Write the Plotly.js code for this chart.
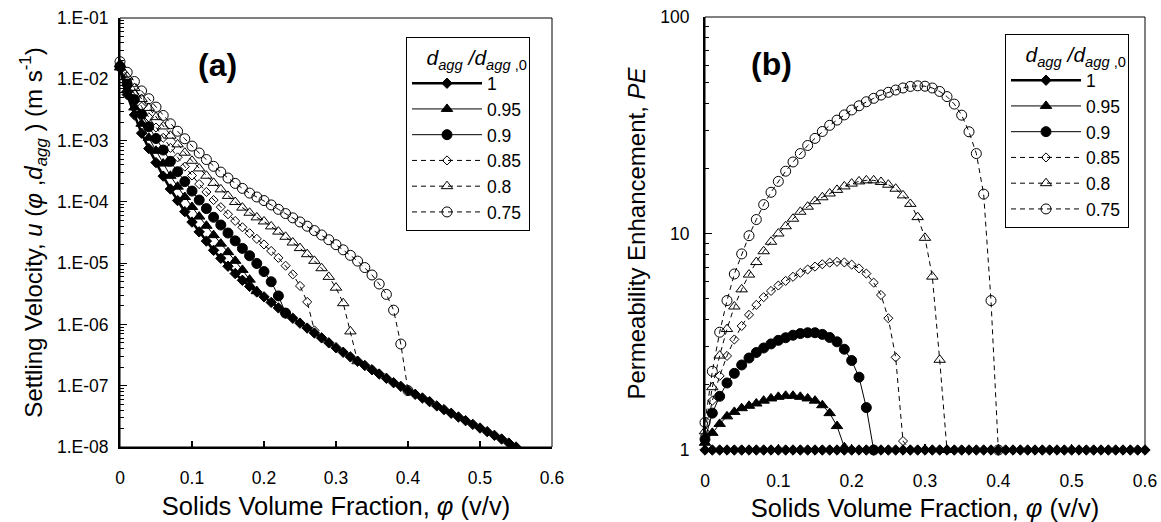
<!DOCTYPE html>
<html>
<head>
<meta charset="utf-8">
<script src="https://cdn.plot.ly/plotly-3.0.1.min.js"></script>
<style>html,body{margin:0;padding:0;background:#fff;}#chart{width:1161px;height:522px;}</style>
</head>
<body>
<div id="chart"></div>
<script>
// ---------- data ----------
const phi = [0,0.01,0.02,0.03,0.04,0.05,0.06,0.07,0.08,0.09,
  0.10,0.11,0.12,0.13,0.14,0.15,0.16,0.17,0.18,0.19,
  0.20,0.21,0.22,0.23,0.24,0.25,0.26,0.27,0.28,0.29,
  0.30,0.31,0.32,0.33,0.34,0.35,0.36,0.37,0.38,0.39,
  0.40,0.41,0.42,0.43,0.44,0.45,0.46,0.47,0.48,0.49,
  0.50,0.51,0.52,0.53,0.54,0.55,0.56,0.57,0.58,0.59,0.60];

const seriesNames = ['1','0.95','0.9','0.85','0.8','0.75'];

// (a) settling velocity u (m/s)
const uA_1 = [1.45e-2,5.62e-3,2.63e-3,1.32e-3,7.41e-4,4.37e-4,2.63e-4,1.62e-4,1.05e-4,6.92e-5,
  4.68e-5,3.24e-5,2.29e-5,1.62e-5,1.20e-5,8.91e-6,6.76e-6,5.25e-6,4.17e-6,3.39e-6,
  2.82e-6,2.29e-6,1.86e-6,1.53e-6,1.26e-6,1.05e-6,8.71e-7,7.24e-7,6.03e-7,5.01e-7,
  4.17e-7,3.51e-7,2.95e-7,2.51e-7,2.14e-7,1.82e-7,1.55e-7,1.32e-7,1.12e-7,9.77e-8,
  8.32e-8,7.24e-8,6.31e-8,5.50e-8,4.68e-8,4.07e-8,3.55e-8,3.09e-8,2.69e-8,2.34e-8,
  2.04e-8,1.78e-8,1.55e-8,1.35e-8,1.16e-8,1.00e-8,8.71e-9,7.59e-9,6.61e-9,5.75e-9,5.01e-9];
const uA_095 = [1.56e-2,6.75e-3,3.47e-3,1.88e-3,1.11e-3,6.81e-4,4.21e-4,2.66e-4,1.77e-4,1.20e-4,
  8.24e-5,5.75e-5,4.07e-5,2.86e-5,2.08e-5,1.51e-5,1.09e-5,7.76e-6,5.38e-6,3.49e-6];
const uA_09 = [1.62e-2,8.30e-3,4.67e-3,2.69e-3,1.68e-3,1.08e-3,7.00e-4,4.58e-4,3.10e-4,2.14e-4,
  1.50e-4,1.07e-4,7.76e-5,5.60e-5,4.19e-5,3.10e-5,2.31e-5,1.74e-5,1.32e-5,9.89e-6,
  7.29e-6,4.97e-6,2.92e-6,1.53e-6];
const uA_085 = [1.69e-2,9.51e-3,5.78e-3,3.58e-3,2.40e-3,1.63e-3,1.11e-3,7.59e-4,5.32e-4,3.76e-4,
  2.69e-4,1.95e-4,1.45e-4,1.07e-4,8.20e-5,6.27e-5,4.88e-5,3.85e-5,3.08e-5,2.49e-5,
  2.02e-5,1.58e-5,1.22e-5,9.08e-6,6.55e-6,4.25e-6,2.33e-6,8.00e-7,6.03e-7];
const uA_08 = [1.76e-2,1.10e-2,7.18e-3,4.78e-3,3.41e-3,2.41e-3,1.70e-3,1.20e-3,8.67e-4,6.34e-4,
  4.68e-4,3.51e-4,2.67e-4,2.04e-4,1.60e-4,1.25e-4,9.95e-5,8.05e-5,6.64e-5,5.58e-5,
  4.79e-5,3.98e-5,3.27e-5,2.69e-5,2.17e-5,1.76e-5,1.40e-5,1.09e-5,8.26e-6,5.97e-6,
  3.98e-6,2.22e-6,7.69e-7,2.51e-7];
const uA_075 = [1.94e-2,1.30e-2,9.20e-3,6.46e-3,4.82e-3,3.52e-3,2.57e-3,1.88e-3,1.42e-3,1.07e-3,
  8.13e-4,6.27e-4,4.90e-4,3.80e-4,3.06e-4,2.45e-4,2.00e-4,1.66e-4,1.39e-4,1.20e-4,
  1.05e-4,8.91e-5,7.55e-5,6.44e-5,5.48e-5,4.70e-5,4.01e-5,3.40e-5,2.88e-5,2.41e-5,
  2.00e-5,1.65e-5,1.34e-5,1.08e-5,8.47e-6,6.41e-6,4.57e-6,3.09e-6,1.71e-6,4.79e-7,8.32e-8];

// (b) permeability enhancement PE
const peB_1 = [1,1,1,1,1,1,1,1,1,1, 1,1,1,1,1,1,1,1,1,1, 1,1,1,1,1,1,1,1,1,1,
  1,1,1,1,1,1,1,1,1,1, 1,1,1,1,1,1,1,1,1,1, 1,1,1,1,1,1,1,1,1,1, 1];
const peB_095 = [1.08,1.20,1.32,1.43,1.50,1.56,1.60,1.64,1.69,1.73,
  1.76,1.78,1.78,1.76,1.73,1.69,1.61,1.48,1.29,1.03];
const peB_09 = [1.12,1.48,1.77,2.04,2.26,2.47,2.66,2.82,2.96,3.09,
  3.21,3.30,3.39,3.45,3.48,3.48,3.42,3.31,3.16,2.92,2.59,2.17,1.57,1.00];
const peB_085 = [1.17,1.69,2.20,2.72,3.24,3.74,4.21,4.68,5.08,5.43,
  5.75,6.04,6.31,6.58,6.82,7.03,7.21,7.33,7.40,7.35,
  7.18,6.90,6.53,5.93,5.20,4.06,2.68,1.10,1.00];
const peB_08 = [1.22,1.95,2.73,3.62,4.60,5.52,6.46,7.38,8.28,9.16,
  10.0,10.8,11.7,12.6,13.3,14.1,14.7,15.3,15.9,16.5,
  17.0,17.4,17.6,17.6,17.3,16.8,16.1,15.0,13.7,11.9,
  9.55,6.32,2.61,1.00];
const peB_075 = [1.34,2.31,3.50,4.90,6.50,8.05,9.77,11.6,13.6,15.5,
  17.4,19.4,21.4,23.4,25.5,27.5,29.6,31.6,33.4,35.3,
  37.2,38.9,40.6,42.1,43.6,44.9,46.0,47.0,47.8,48.1,
  47.9,47.0,45.3,42.9,39.6,35.2,29.5,23.4,15.2,4.90,1.00];

const yTickValsA = [1e-8,1e-7,1e-6,1e-5,1e-4,1e-3,1e-2,1e-1];
const yTickTextA = ['1.E-08','1.E-07','1.E-06','1.E-05','1.E-04','1.E-03','1.E-02','1.E-01'];
const yTickValsB = [1,10,100];
const yTickTextB = ['1','10','100'];

// minor tick positions (2..9 within each decade)
function minorTicks(lo, hi) {
  const out = [];
  for (let e = lo; e < hi; e++) for (let m = 2; m <= 9; m++) out.push(m * Math.pow(10, e));
  return out;
}

// ---------- styles ----------
const FONT = 'Liberation Sans, Arial, Helvetica, sans-serif';
const DASH = '5px,4px';
const styles = {
  '1':    {symbol:'diamond',          size:8,  width:2.6, dash:'solid'},
  '0.95': {symbol:'triangle-up',      size:10, width:1,   dash:'solid'},
  '0.9':  {symbol:'circle',           size:10, width:1,   dash:'solid'},
  '0.85': {symbol:'diamond-open',     size:7,  width:1,   dash:DASH},
  '0.8':  {symbol:'triangle-up-open', size:10, width:1,   dash:DASH},
  '0.75': {symbol:'circle-open',      size:10, width:1,   dash:DASH}
};

function mk(name, y, xa, ya, leg, clip) {
  const s = styles[name];
  return {
    type:'scatter', mode:'lines+markers', name:name,
    x: phi.slice(0, y.length), y:y,
    xaxis:xa, yaxis:ya, legend:leg,
    legendrank: seriesNames.indexOf(name) + 1,
    cliponaxis: clip,
    line:{color:'#000', width:s.width, dash:s.dash},
    marker:{symbol:s.symbol, size:s.size, color:'#000', line:{color:'#000', width:1}}
  };
}

const traces = [
  mk('0.95', uA_095, 'x', 'y', 'legend', false),
  mk('0.9',  uA_09,  'x', 'y', 'legend', false),
  mk('0.85', uA_085, 'x', 'y', 'legend', false),
  mk('0.8',  uA_08,  'x', 'y', 'legend', false),
  mk('0.75', uA_075, 'x', 'y', 'legend', false),
  mk('1',    uA_1,   'x', 'y', 'legend', true),
  mk('0.95', peB_095, 'x2', 'y2', 'legend2', false),
  mk('0.9',  peB_09,  'x2', 'y2', 'legend2', false),
  mk('0.85', peB_085, 'x2', 'y2', 'legend2', false),
  mk('0.8',  peB_08,  'x2', 'y2', 'legend2', false),
  mk('0.75', peB_075, 'x2', 'y2', 'legend2', false),
  mk('1',    peB_1,   'x2', 'y2', 'legend2', false)
];

const W = 1161, H = 522;
function xAxis(dom, anchor) {
  return {
    domain:dom, anchor:anchor,
    range:[0,0.6], tick0:0, dtick:0.1, ticks:'inside', ticklen:6, tickwidth:1.2, tickcolor:'#000',
    showline:true, linewidth:2, linecolor:'#000', mirror:false, zeroline:false, showgrid:false,
    ticklabelstandoff:14, tickfont:{size:17.5, family:FONT, color:'#000'},
    title:{text:'Solids Volume Fraction, <i>φ</i> (v/v)', font:{size:25.5, family:FONT, color:'#000'}, standoff:10}
  };
}
function yAxis(dom, anchor, rng, vals, text, minorVals, title, standoff, tls) {
  return {
    domain:dom, anchor:anchor, type:'log', range:rng,
    tickmode:'array', tickvals:vals, ticktext:text,
    ticks:'inside', ticklen:7, tickwidth:1.2, tickcolor:'#000',
    minor:{tickmode:'array', tickvals:minorVals, ticks:'inside', ticklen:4, tickwidth:1, tickcolor:'#000', showgrid:false},
    showline:true, linewidth:2, linecolor:'#000', mirror:false, zeroline:false, showgrid:false,
    ticklabelstandoff:tls, tickfont:{size:17.5, family:FONT, color:'#000'},
    title:{text:title, font:{size:24, family:FONT, color:'#000'}, standoff:standoff}
  };
}
const NB = '\u00a0\u00a0\u00a0';
function legendBox(x, y) {
  return {
    x:x, y:y, bgcolor:'#fff', bordercolor:'#000', borderwidth:1, xanchor:'left', yanchor:'top',
    font:{size:17.5, family:FONT, color:'#000'}, itemwidth:70, traceorder:'normal',
    title:{text: NB + '<i>d</i><sub><i>agg</i></sub> <i>/d</i><sub><i>agg</i> ,0</sub>',
           font:{size:21, family:FONT, color:'#000'}},
    itemclick:false, itemdoubleclick:false
  };
}

const layout = {
  width:W, height:H, margin:{l:0, r:0, t:0, b:0},
  paper_bgcolor:'#fff', plot_bgcolor:'#fff',
  font:{family:FONT, size:17.5, color:'#000'},
  showlegend:true,
  xaxis: xAxis([120/W, 552/W], 'y'),
  yaxis: yAxis([1-447/H, 1-18/H], 'x', [-8,-1], yTickValsA, yTickTextA, minorTicks(-8,-1),
    'Settling Velocity, <i>u</i> (<i>φ</i> ,<i>d</i><sub><i>agg</i></sub> ) (m s<sup>-1</sup>)', 8, 6),
  xaxis2: xAxis([705/W, 1145/W], 'y2'),
  yaxis2: yAxis([1-450/H, 1-17/H], 'x2', [0,2], yTickValsB, yTickTextB, minorTicks(0,2),
    'Permeability Enhancement, <i>PE</i>', 8, 10),
  legend: legendBox(406/W, 1-37/H),
  legend2: legendBox(1005/W, 1-34/H),
  shapes:[
    {type:'rect', layer:'below', xref:'x domain', yref:'y domain', x0:0, x1:1, y0:0, y1:1, line:{color:'#000', width:1}},
    {type:'rect', layer:'below', xref:'x2 domain', yref:'y2 domain', x0:0, x1:1, y0:0, y1:1, line:{color:'#000', width:1}}
  ],
  annotations:[
    {text:'<b>(a)</b>', xref:'paper', yref:'paper', x:217/W, y:1-65/H, xanchor:'center', yanchor:'middle',
     showarrow:false, font:{size:32, family:FONT, color:'#000'}},
    {text:'<b>(b)</b>', xref:'paper', yref:'paper', x:771/W, y:1-64/H, xanchor:'center', yanchor:'middle',
     showarrow:false, font:{size:32, family:FONT, color:'#000'}}
  ]
};

Plotly.newPlot('chart', traces, layout, {staticPlot:true, displayModeBar:false});
</script>
</body>
</html>
